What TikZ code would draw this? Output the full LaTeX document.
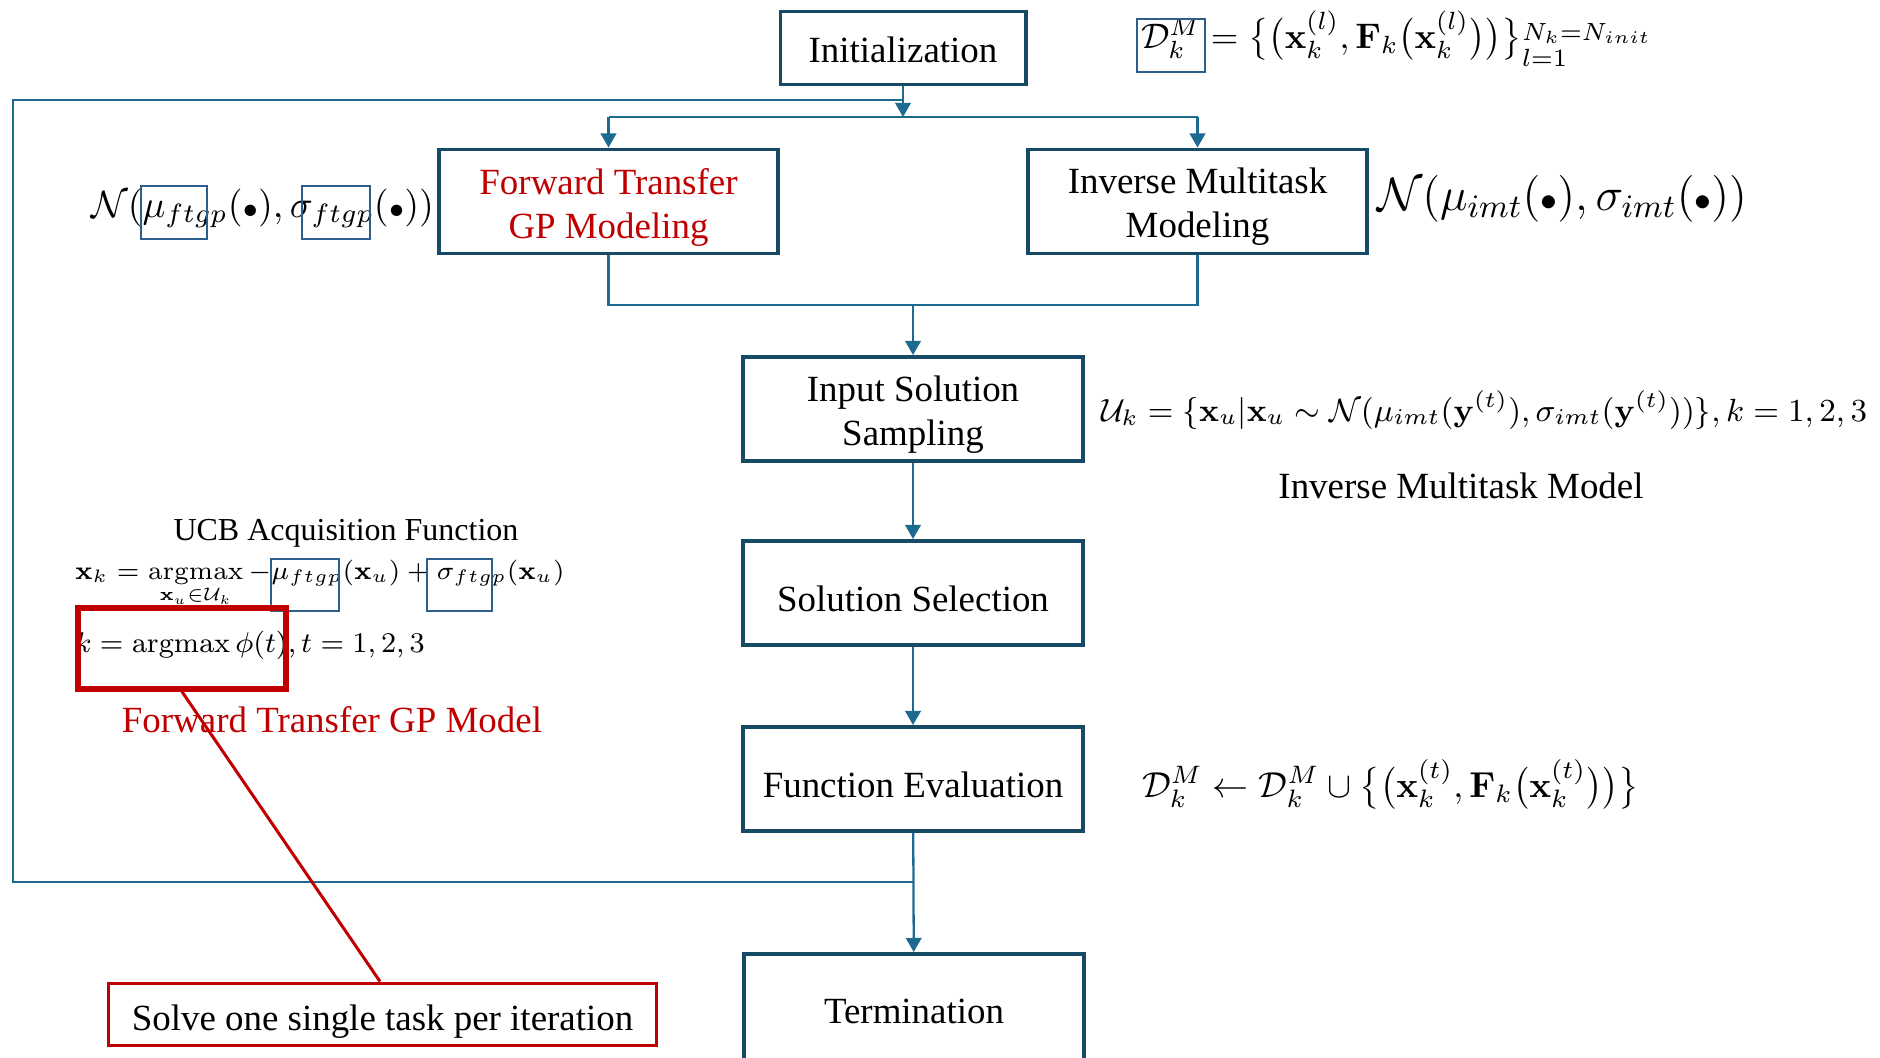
\RequirePackage{fix-cm}
\documentclass[tikz,border=0pt]{standalone}
\usepackage{amsmath}
\usepackage[no-math]{fontspec}
\setmainfont{Liberation Serif}
\usetikzlibrary{arrows.meta}
\definecolor{boxline}{HTML}{164A65}
\definecolor{conline}{HTML}{1E6990}
\definecolor{markbox}{HTML}{2C5E8E}
\definecolor{accent}{HTML}{C00000}
\newcommand\setsize[2]{\fontsize{#1}{#2}\selectfont}
\newcommand\dotarg{\mathord{\scriptstyle\bullet}}

\begin{document}
\begin{tikzpicture}[x=0.01cm, y=-0.01cm,
  stepbox/.style={draw=boxline, line width=1.1pt, minimum width=3.39cm,
    minimum height=1.04cm, inner sep=0pt},
  steptext/.style={align=center, inner sep=0pt, yshift=-0.055cm,
    font=\setsize{10.5pt}{12.5pt}},
  conn/.style={draw=conline, line width=0.65pt},
  arr/.style={conn, -{Triangle[width=4.4pt,length=4pt]}},
  markframe/.style={draw=markbox, line width=0.55pt, inner sep=0pt},
  formula/.style={inner sep=0pt, outer sep=0pt},
  caption/.style={inner sep=0pt, font=\setsize{10.5pt}{12.5pt}},
  callout/.style={draw=accent, line width=0.85pt},
]
\useasboundingbox (0,0) rectangle (1880,1057);

% --- main flow ---
\node[stepbox, minimum width=2.45cm, minimum height=0.73cm,
  label={[steptext, yshift=0.035cm]center:Initialization}] (init) at (903,48) {};
\node[stepbox, label={[steptext, text=accent]center:{Forward Transfer\\GP Modeling}}] (fwd) at (608.5,201.5) {};
\node[stepbox, label={[steptext]center:{Inverse Multitask\\Modeling}}] (inv) at (1197.5,201.5) {};
\node[stepbox, label={[steptext]center:{Input Solution\\Sampling}}] (input) at (913,409) {};
\node[stepbox, label={[steptext]center:Solution Selection}] (select) at (913,593) {};
\node[stepbox, label={[steptext]center:Function Evaluation}] (evalu) at (913,779) {};
\node[stepbox, minimum height=1.14cm, font=\setsize{10.5pt}{12.5pt}] (term) at (914,1011) {Termination};

% --- connectors ---
\coordinate (split) at (903,117);
\coordinate (merge) at (913,305);
\coordinate (loopbot) at (13,882);
\coordinate (looptop) at (13,100);

\draw[arr] (init.south) -- (split);
\draw[conn] (fwd.north |- split) -- (inv.north |- split);
\draw[arr] (fwd.north |- split) -- (fwd.north);
\draw[arr] (inv.north |- split) -- (inv.north);
\draw[conn] (fwd.south) -- (fwd.south |- merge) -- (inv.south |- merge) -- (inv.south);
\draw[arr] (merge) -- (input.north);
\draw[arr] (input) -- (select);
\draw[arr] (select) -- (evalu);
\draw[arr] (evalu) -- (term);
\draw[conn] (evalu.south |- loopbot) -- (loopbot) -- (looptop) -- (init.south |- looptop);

% --- formulas beside the steps ---
\node[formula, anchor=base west, font=\setsize{10.1pt}{12pt}] (fInit) at (1141,48)
  {$\mathcal{D}_k^M = \bigl\{\bigl(\mathbf{x}_k^{(l)}, \mathbf{F}_k\bigl(\mathbf{x}_k^{(l)}\bigr)\bigr)\bigr\}\lower2.3pt\hbox{${}_{l=1}^{N_k=N_{init}}$}$};
\node[formula, anchor=base west, font=\setsize{10.8pt}{13pt}] (fFwd) at (91,217)
  {$\mathcal{N}(\mu_{ftgp}(\dotarg), \sigma_{ftgp}(\dotarg))$};
\node[formula, anchor=base west, font=\setsize{13.3pt}{15pt}] (fInv) at (1377,210)
  {$\mathcal{N}(\mu_{imt}(\dotarg), \sigma_{imt}(\dotarg))$};
\node[formula, anchor=base west, font=\setsize{9.13pt}{11pt}] (fInput) at (1101,421)
  {$\mathcal{U}_k = \{\mathbf{x}_u | \mathbf{x}_u \sim \mathcal{N}(\mu_{imt}(\mathbf{y}^{(t)}), \sigma_{imt}(\mathbf{y}^{(t)}))\}, k = 1,2,3$};
\node[caption, anchor=base] (capInv) at (1461,498) {Inverse Multitask Model};
\node[formula, anchor=base west, font=\setsize{10.25pt}{12pt}] (fEval) at (1142,797)
  {$\mathcal{D}_k^M \leftarrow \mathcal{D}_k^M \cup \bigl\{\bigl(\mathbf{x}_k^{(t)}, \mathbf{F}_k\bigl(\mathbf{x}_k^{(t)}\bigr)\bigr)\bigr\}$};

% --- acquisition function ---
\node[caption, anchor=base, font=\setsize{9.1pt}{11pt}] (capUCB) at (346,540) {UCB Acquisition Function};
\node[formula, anchor=base west, font=\setsize{7.35pt}{9pt}] (fUCB) at (75,579)
  {$\displaystyle \mathbf{x}_k = \operatorname*{argmax}_{\mathbf{x}_u \in \mathcal{U}_k} -\mu_{ftgp}(\mathbf{x}_u) + \sigma_{ftgp}(\mathbf{x}_u)$};
\node[formula, anchor=base west, font=\setsize{8.1pt}{10pt}] (fTask) at (75,652)
  {$k = \operatorname{argmax}\phi(t), t = 1,2,3$};
\node[caption, anchor=base, text=accent] (capFwd) at (332,732) {Forward Transfer GP Model};

% --- highlight frames ---
\node[markframe, minimum width=0.68cm, minimum height=0.53cm] (bD) at (1171,45.5) {};
\node[markframe, minimum width=0.66cm, minimum height=0.53cm] (bL1) at (174,212.5) {};
\node[markframe, minimum width=0.68cm, minimum height=0.53cm] (bL2) at (336,212.5) {};
\node[markframe, minimum width=0.68cm, minimum height=0.52cm] (bU1) at (305,585) {};
\node[markframe, minimum width=0.65cm, minimum height=0.52cm] (bU2) at (459.5,585) {};

% --- task-selection callout ---
\node[draw=accent, line width=1.5pt, minimum width=2.08cm, minimum height=0.81cm] (redsel) at (182,648.5) {};
\node[callout, minimum width=5.47cm, minimum height=0.62cm,
  label={[steptext, yshift=-0.02cm]center:Solve one single task per iteration}] (solve) at (382.5,1014) {};
\draw[callout] (redsel.south) -- (solve.north -| 380,0);
\end{tikzpicture}
\end{document}
